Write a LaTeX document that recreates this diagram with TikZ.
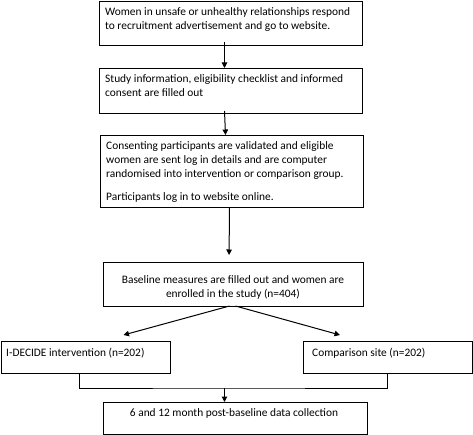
\documentclass[tikz,border=0pt]{standalone}
\usepackage{fontspec}
\setmainfont{Carlito}
\usetikzlibrary{calc,arrows.meta}

\tikzset{box/.style={draw,anchor=north west,inner sep=0pt,line width=1pt}}
\tikzset{boxtext/.style={inner sep=0pt,font=\fontsize{11.4}{14}\selectfont}}
\tikzset{arr/.style={-{Triangle[length=5.5pt,width=5.5pt]},line width=1pt}}

\begin{document}
\begin{tikzpicture}[x=1pt,y=-1pt]
\useasboundingbox (0,0) rectangle (473,435);
% boxes
\node[box,minimum width=263pt,minimum height=44pt] (recruit) at (99,1) {};
\node[box,minimum width=263pt,minimum height=45pt] (consent) at (99,68) {};
\node[box,minimum width=263pt,minimum height=72pt] (random) at (100,135) {};
\node[box,minimum width=260pt,minimum height=44pt] (enrol) at (103,262) {};
\node[box,minimum width=169pt,minimum height=32pt] (interv) at (0.5,341) {};
\node[box,minimum width=169pt,minimum height=32pt] (comp) at (303,341) {};
\node[box,minimum width=264pt,minimum height=32pt] (follow) at (103,402) {};
% texts (anchored on the last line)
\node[boxtext,anchor=base west,align=left] (recruittext) at (105,30)
    {Women in unsafe or unhealthy relationships respond\\to recruitment advertisement and go to website.};
\node[boxtext,anchor=base west,align=left] (consenttext) at (105,97)
    {Study information, eligibility checklist and informed\\consent are filled out};
\node[boxtext,anchor=base west,align=left] (randomtext) at (106,201)
    {Consenting participants are validated and eligible\\women are sent log in details and are computer\\randomised into intervention or comparison group.\\[9pt]Participants log in to website online.};
\node[boxtext,anchor=base,align=center] (enroltext) at (233,297)
    {Baseline measures are filled out and women are\\enrolled in the study (n=404)};
\node[boxtext,anchor=base west] (intervtext) at (6,356) {I-DECIDE intervention (n=202)};
\node[boxtext,anchor=base west] (comptext) at (312,356) {Comparison site (n=202)};
\node[boxtext,anchor=base] (followtext) at (234,416) {6 and 12 month post-baseline data collection};
% connectors
\draw[arr] ([xshift=-6.5pt,yshift=4pt]recruit.south) -- ([xshift=-6.5pt]consent.north);
\draw[arr] ([xshift=-6.5pt,yshift=3pt]consent.south) -- ([xshift=-6.5pt]random.north);
\draw[arr,shorten >=7pt] ([xshift=-2.5pt]random.south) -- ([xshift=-4.5pt]enrol.north);
\draw[arr] ([xshift=-4pt,yshift=1pt]enrol.south) -- ($(interv.north east)+(-47,-6)$);
\draw[arr] ([xshift=2pt,yshift=1pt]enrol.south) -- ($(comp.north west)+(37,-6)$);
\coordinate (join) at ($(follow.north)+(-11,-14)$);
\draw[line width=1pt] ([xshift=-6pt]interv.south) |- (join) -| ([xshift=-0.5pt]comp.south);
\draw[arr] (join) -- (join |- follow.north);
\end{tikzpicture}
\end{document}
